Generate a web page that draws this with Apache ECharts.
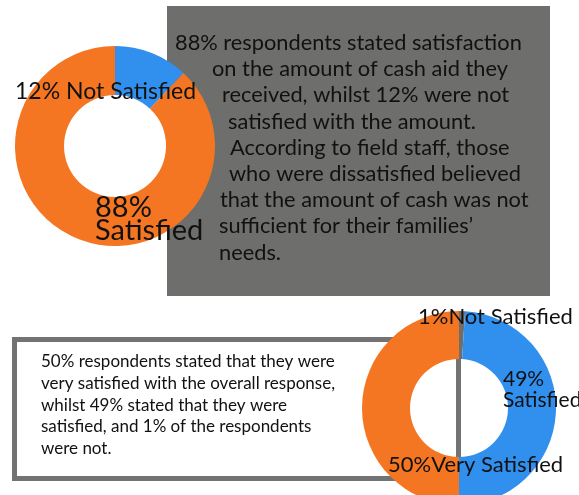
<!DOCTYPE html>
<html>
<head>
<meta charset="utf-8">
<script src="https://cdn.jsdelivr.net/npm/echarts@6/dist/echarts.min.js"></script>
<style>
  html, body { margin: 0; padding: 0; background: #fff; }
  #chart { width: 579px; height: 495px; }
</style>
</head>
<body>
<div id="chart"></div>
<script>
// cash amount satisfaction (top donut)
const cashNames = ['12% Not Satisfied', '88%\nSatisfied'];
const cashValues = [12, 88];

// overall response satisfaction (bottom donut)
const overallNames = ['1%Not Satisfied', '49%\nSatisfied', '50%Very Satisfied'];
const overallValues = [1, 49, 50];

const cashNote = [
  '88% respondents stated satisfaction',
  'on the amount of cash aid they',
  'received, whilst 12% were not',
  'satisfied with the amount.',
  'According to field staff, those',
  'who were dissatisfied believed',
  'that the amount of cash was not',
  'sufficient for their families\u2019',
  'needs.'
];

const overallNote = [
  '50% respondents stated that they were',
  'very satisfied with the overall response,',
  'whilst 49% stated that they were',
  'satisfied, and 1% of the respondents',
  'were not.'
];

const ORANGE = '#f47622';
const BLUE = '#318fee';
const GREY = '#6e6f6c';
const FONT = 'Lato, sans-serif';

const chart = echarts.init(document.getElementById('chart'), null, { renderer: 'canvas' });

// ragged left edges of the grey note, as in the slide
const noteIndent = [175, 212, 222, 228, 230, 229, 220, 219, 219];

const graphics = [
  { type: 'rect', z: 0, shape: { x: 167, y: 6, width: 383, height: 290 }, style: { fill: GREY } },
  { type: 'rect', z: 0, shape: { x: 14.5, y: 339.5, width: 444, height: 139 },
    style: { fill: '#fff', stroke: '#737373', lineWidth: 5 } }
];
cashNote.forEach((line, i) => {
  graphics.push({
    type: 'text', z: 1, x: noteIndent[i], y: 43 + i * 26.2,
    style: { text: line, fill: '#111', font: '21.8px ' + FONT, textVerticalAlign: 'middle' }
  });
});
overallNote.forEach((line, i) => {
  graphics.push({
    type: 'text', z: 1, x: 41, y: 362 + i * 21.6,
    style: { text: line, fill: '#111', font: '17px ' + FONT, textVerticalAlign: 'middle' }
  });
});

// label anchors and sizes per slice
const cashLabelPos = [
  { x: 15, y: 92, align: 'left' },
  { x: 95, y: 219, align: 'left' }
];
const cashLabelSize = [{ fontSize: 23, lineHeight: 23 }, { fontSize: 29, lineHeight: 23 }];
const overallLabelPos = [
  { x: 418, y: 317, align: 'left' },
  { x: 503, y: 390, align: 'left' },
  { x: 388, y: 465, align: 'left' }
];
const overallLabelSize = [
  { fontSize: 22, lineHeight: 22 },
  { fontSize: 21, lineHeight: 21 },
  { fontSize: 22, lineHeight: 22 }
];

chart.setOption({
  backgroundColor: '#fff',
  animation: false,
  graphic: { elements: graphics },
  series: [
    {
      type: 'pie',
      center: [115, 146],
      radius: [51, 100],
      startAngle: 90,
      clockwise: true,
      silent: true,
      data: cashNames.map((n, i) => ({ name: n, value: cashValues[i], label: cashLabelSize[i] })),
      color: [BLUE, ORANGE],
      itemStyle: { borderWidth: 0 },
      label: {
        show: true, position: 'inside', formatter: '{b}',
        color: '#111', fontFamily: FONT
      },
      labelLine: { show: false },
      labelLayout: p => Object.assign({ verticalAlign: 'middle' }, cashLabelPos[p.dataIndex]),
      emphasis: { disabled: true }
    },
    {
      type: 'pie',
      center: [459, 408],
      radius: [49, 97],
      startAngle: 90,
      clockwise: true,
      silent: true,
      data: overallNames.map((n, i) => ({ name: n, value: overallValues[i], label: overallLabelSize[i] })),
      color: [GREY, BLUE, ORANGE],
      itemStyle: { borderWidth: 0 },
      label: {
        show: true, position: 'inside', formatter: '{b}',
        color: '#111', fontFamily: FONT
      },
      labelLine: { show: false },
      labelLayout: p => Object.assign({ verticalAlign: 'middle' }, overallLabelPos[p.dataIndex]),
      emphasis: { disabled: true }
    }
  ]
});
</script>
</body>
</html>
